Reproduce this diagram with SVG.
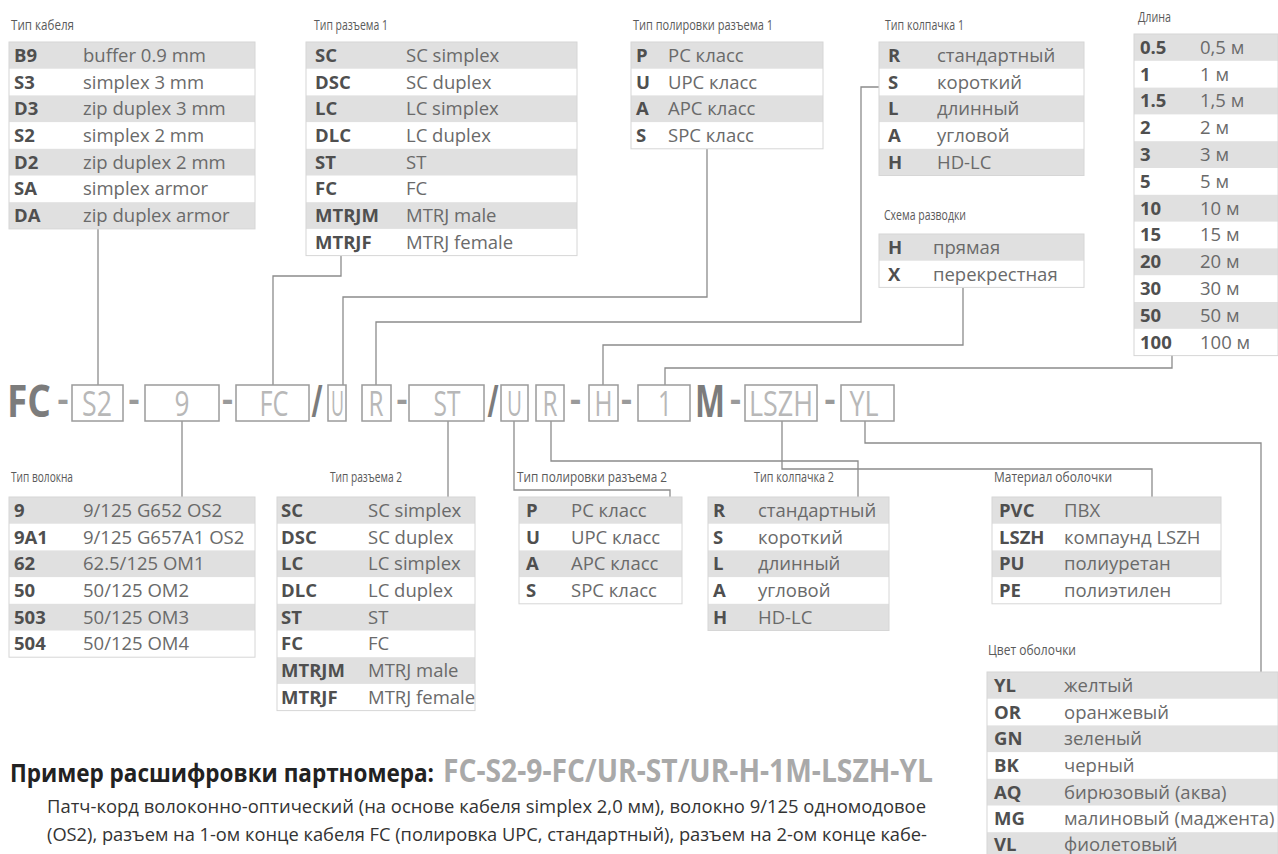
<svg xmlns="http://www.w3.org/2000/svg" width="1278" height="854" viewBox="0 0 1278 854">
<style>
.t{font-family:'Open Sans',sans-serif;font-size:15px;fill:#5a5a5a}
.c{font-family:'Open Sans',sans-serif;font-size:18.5px;font-weight:700;fill:#4f4f4f}
.d{font-family:'Open Sans',sans-serif;font-size:18.5px;fill:#6a6a6a}
.gr{fill:#e0e0e0}
.bd{fill:none;stroke:#d6d6d6;stroke-width:1}
.ln{fill:none;stroke:#8c8c8c;stroke-width:1.3}
.bx{fill:#fff;stroke:#9b9b9b;stroke-width:1.5}
.bt{font-family:'Open Sans',sans-serif;font-size:35px;fill:#b8b8b8;text-anchor:middle}
.big{font-family:'Open Sans',sans-serif;font-size:44px;font-weight:700;fill:#7c7c7c}
.sl{font-family:'Open Sans',sans-serif;font-size:44px;font-weight:700;fill:#7c7c7c;text-anchor:middle}
.da{font-family:'Open Sans',sans-serif;font-size:34px;font-weight:700;fill:#9a9a9a;text-anchor:middle}
.h1{font-family:'Open Sans',sans-serif;font-size:25px;font-weight:700;fill:#222}
.h2{font-family:'Open Sans',sans-serif;font-size:32px;font-weight:700;fill:#a9a9a9}
.p{font-family:'Open Sans',sans-serif;font-size:19px;fill:#333}
</style>
<rect width="1278" height="854" fill="#fff"/>

<g id="connectors">
<path class="ln" d="M98 229V385"/>
<path class="ln" d="M341 256V276H273V385"/>
<path class="ln" d="M707 149V297H343V385"/>
<path class="ln" d="M879 87H861V322H376V385"/>
<path class="ln" d="M963 288V345H603V385"/>
<path class="ln" d="M1172 355V368H665V385"/>
<path class="ln" d="M182 421V497"/>
<path class="ln" d="M448 421V497"/>
<path class="ln" d="M514 421V490H670V497"/>
<path class="ln" d="M551 421V461H858V497"/>
<path class="ln" d="M782 421V469H1152V497"/>
<path class="ln" d="M865 421V443H1261V672"/>
</g>

<g id="cable-type" transform="translate(9,42)">
<text class="t" x="2" y="-12" textLength="63" lengthAdjust="spacingAndGlyphs">Тип кабеля</text>
<rect class="gr" x="0" y="0" width="246" height="26.7"/>
<rect class="gr" x="0" y="53.4" width="246" height="26.7"/>
<rect class="gr" x="0" y="106.8" width="246" height="26.7"/>
<rect class="gr" x="0" y="160.2" width="246" height="26.7"/>
<rect class="bd" x="0" y="0" width="246" height="186.9"/>
<text class="c" x="5" y="19.8">B9</text><text class="d" x="74" y="19.8">buffer 0.9 mm</text>
<text class="c" x="5" y="46.5">S3</text><text class="d" x="74" y="46.5">simplex 3 mm</text>
<text class="c" x="5" y="73.2">D3</text><text class="d" x="74" y="73.2">zip duplex 3 mm</text>
<text class="c" x="5" y="99.9">S2</text><text class="d" x="74" y="99.9">simplex 2 mm</text>
<text class="c" x="5" y="126.6">D2</text><text class="d" x="74" y="126.6">zip duplex 2 mm</text>
<text class="c" x="5" y="153.3">SA</text><text class="d" x="74" y="153.3">simplex armor</text>
<text class="c" x="5" y="180">DA</text><text class="d" x="74" y="180">zip duplex armor</text>
</g>

<g id="connector1-type" transform="translate(306,42)">
<text class="t" x="8" y="-12" textLength="74" lengthAdjust="spacingAndGlyphs">Тип разъема 1</text>
<rect class="gr" x="0" y="0" width="271" height="26.7"/>
<rect class="gr" x="0" y="53.4" width="271" height="26.7"/>
<rect class="gr" x="0" y="106.8" width="271" height="26.7"/>
<rect class="gr" x="0" y="160.2" width="271" height="26.7"/>
<rect class="bd" x="0" y="0" width="271" height="213.6"/>
<text class="c" x="9" y="19.8">SC</text><text class="d" x="100" y="19.8">SC simplex</text>
<text class="c" x="9" y="46.5">DSC</text><text class="d" x="100" y="46.5">SC duplex</text>
<text class="c" x="9" y="73.2">LC</text><text class="d" x="100" y="73.2">LC simplex</text>
<text class="c" x="9" y="99.9">DLC</text><text class="d" x="100" y="99.9">LC duplex</text>
<text class="c" x="9" y="126.6">ST</text><text class="d" x="100" y="126.6">ST</text>
<text class="c" x="9" y="153.3">FC</text><text class="d" x="100" y="153.3">FC</text>
<text class="c" x="9" y="180">MTRJM</text><text class="d" x="100" y="180">MTRJ male</text>
<text class="c" x="9" y="206.7">MTRJF</text><text class="d" x="100" y="206.7">MTRJ female</text>
</g>

<g id="polish1-type" transform="translate(631,42)">
<text class="t" x="2" y="-12" textLength="140" lengthAdjust="spacingAndGlyphs">Тип полировки разъема 1</text>
<rect class="gr" x="0" y="0" width="192" height="26.7"/>
<rect class="gr" x="0" y="53.4" width="192" height="26.7"/>
<rect class="bd" x="0" y="0" width="192" height="106.8"/>
<text class="c" x="5" y="19.8">P</text><text class="d" x="37" y="19.8">PC класс</text>
<text class="c" x="5" y="46.5">U</text><text class="d" x="37" y="46.5">UPC класс</text>
<text class="c" x="5" y="73.2">A</text><text class="d" x="37" y="73.2">APC класс</text>
<text class="c" x="5" y="99.9">S</text><text class="d" x="37" y="99.9">SPC класс</text>
</g>

<g id="cap1-type" transform="translate(879,42)">
<text class="t" x="6" y="-12" textLength="79" lengthAdjust="spacingAndGlyphs">Тип колпачка 1</text>
<rect class="gr" x="0" y="0" width="205" height="26.7"/>
<rect class="gr" x="0" y="53.4" width="205" height="26.7"/>
<rect class="gr" x="0" y="106.8" width="205" height="26.7"/>
<rect class="bd" x="0" y="0" width="205" height="133.5"/>
<text class="c" x="9" y="19.8">R</text><text class="d" x="58" y="19.8">стандартный</text>
<text class="c" x="9" y="46.5">S</text><text class="d" x="58" y="46.5">короткий</text>
<text class="c" x="9" y="73.2">L</text><text class="d" x="58" y="73.2">длинный</text>
<text class="c" x="9" y="99.9">A</text><text class="d" x="58" y="99.9">угловой</text>
<text class="c" x="9" y="126.6">H</text><text class="d" x="58" y="126.6">HD-LC</text>
</g>

<g id="wiring-scheme" transform="translate(879,234)">
<text class="t" x="5" y="-14" textLength="82" lengthAdjust="spacingAndGlyphs">Схема разводки</text>
<rect class="gr" x="0" y="0" width="205" height="26.7"/>
<rect class="bd" x="0" y="0" width="205" height="53.4"/>
<text class="c" x="9" y="19.8">H</text><text class="d" x="54" y="19.8">прямая</text>
<text class="c" x="9" y="46.5">X</text><text class="d" x="54" y="46.5">перекрестная</text>
</g>

<g id="length" transform="translate(1134,34)">
<text class="t" x="4" y="-12" textLength="33" lengthAdjust="spacingAndGlyphs">Длина</text>
<rect class="gr" x="0" y="0" width="144" height="26.8"/>
<rect class="gr" x="0" y="53.6" width="144" height="26.8"/>
<rect class="gr" x="0" y="107.2" width="144" height="26.8"/>
<rect class="gr" x="0" y="160.8" width="144" height="26.8"/>
<rect class="gr" x="0" y="214.4" width="144" height="26.8"/>
<rect class="gr" x="0" y="268" width="144" height="26.8"/>
<rect class="bd" x="0" y="0" width="144" height="321.6"/>
<text class="c" x="6" y="19.8">0.5</text><text class="d" x="66" y="19.8">0,5 м</text>
<text class="c" x="6" y="46.6">1</text><text class="d" x="66" y="46.6">1 м</text>
<text class="c" x="6" y="73.4">1.5</text><text class="d" x="66" y="73.4">1,5 м</text>
<text class="c" x="6" y="100.2">2</text><text class="d" x="66" y="100.2">2 м</text>
<text class="c" x="6" y="127">3</text><text class="d" x="66" y="127">3 м</text>
<text class="c" x="6" y="153.8">5</text><text class="d" x="66" y="153.8">5 м</text>
<text class="c" x="6" y="180.6">10</text><text class="d" x="66" y="180.6">10 м</text>
<text class="c" x="6" y="207.4">15</text><text class="d" x="66" y="207.4">15 м</text>
<text class="c" x="6" y="234.2">20</text><text class="d" x="66" y="234.2">20 м</text>
<text class="c" x="6" y="261">30</text><text class="d" x="66" y="261">30 м</text>
<text class="c" x="6" y="287.8">50</text><text class="d" x="66" y="287.8">50 м</text>
<text class="c" x="6" y="314.6">100</text><text class="d" x="66" y="314.6">100 м</text>
</g>

<g id="part-number">
<text class="big" x="7" y="417" textLength="44" lengthAdjust="spacingAndGlyphs">FC</text>
<text class="da" x="63" y="411">-</text>
<rect class="bx" x="72" y="385" width="51" height="36"/>
<text class="bt" x="97" y="416" textLength="30" lengthAdjust="spacingAndGlyphs">S2</text>
<text class="da" x="134" y="411">-</text>
<rect class="bx" x="145" y="385" width="74" height="36"/>
<text class="bt" x="182" y="416" textLength="15" lengthAdjust="spacingAndGlyphs">9</text>
<text class="da" x="227.5" y="411">-</text>
<rect class="bx" x="236" y="385" width="73" height="36"/>
<text class="bt" x="274" y="416" textLength="29" lengthAdjust="spacingAndGlyphs">FC</text>
<text class="sl" x="317" y="417" textLength="11" lengthAdjust="spacingAndGlyphs">/</text>
<rect class="bx" x="328" y="385" width="18" height="36"/>
<text class="bt" x="337.5" y="416" textLength="13" lengthAdjust="spacingAndGlyphs">U</text>
<rect class="bx" x="362" y="385" width="29" height="36"/>
<text class="bt" x="376" y="416" textLength="15" lengthAdjust="spacingAndGlyphs">R</text>
<text class="da" x="402" y="411">-</text>
<rect class="bx" x="409" y="385" width="75" height="36"/>
<text class="bt" x="447" y="416" textLength="27" lengthAdjust="spacingAndGlyphs">ST</text>
<text class="sl" x="493" y="417" textLength="11" lengthAdjust="spacingAndGlyphs">/</text>
<rect class="bx" x="501" y="385" width="27" height="36"/>
<text class="bt" x="514.5" y="416" textLength="15" lengthAdjust="spacingAndGlyphs">U</text>
<rect class="bx" x="536" y="385" width="28" height="36"/>
<text class="bt" x="550" y="416" textLength="15" lengthAdjust="spacingAndGlyphs">R</text>
<text class="da" x="575.5" y="411">-</text>
<rect class="bx" x="589" y="385" width="29" height="36"/>
<text class="bt" x="603.5" y="416" textLength="18" lengthAdjust="spacingAndGlyphs">H</text>
<text class="da" x="626.5" y="411">-</text>
<rect class="bx" x="638" y="385" width="52" height="36"/>
<text class="bt" x="665" y="416" textLength="14" lengthAdjust="spacingAndGlyphs">1</text>
<text class="big" x="695" y="417" textLength="30" lengthAdjust="spacingAndGlyphs">M</text>
<text class="da" x="735.5" y="411">-</text>
<rect class="bx" x="745" y="385" width="72" height="36"/>
<text class="bt" x="781" y="416" textLength="64" lengthAdjust="spacingAndGlyphs">LSZH</text>
<text class="da" x="830" y="411">-</text>
<rect class="bx" x="841" y="385" width="53" height="36"/>
<text class="bt" x="864" y="416" textLength="29" lengthAdjust="spacingAndGlyphs">YL</text>
</g>

<g id="fiber-type" transform="translate(9,497)">
<text class="t" x="2" y="-15" textLength="62" lengthAdjust="spacingAndGlyphs">Тип волокна</text>
<rect class="gr" x="0" y="0" width="246" height="26.7"/>
<rect class="gr" x="0" y="53.4" width="246" height="26.7"/>
<rect class="gr" x="0" y="106.8" width="246" height="26.7"/>
<rect class="bd" x="0" y="0" width="246" height="160.2"/>
<text class="c" x="5" y="19.8">9</text><text class="d" x="74" y="19.8">9/125 G652 OS2</text>
<text class="c" x="5" y="46.5">9A1</text><text class="d" x="74" y="46.5">9/125 G657A1 OS2</text>
<text class="c" x="5" y="73.2">62</text><text class="d" x="74" y="73.2">62.5/125 OM1</text>
<text class="c" x="5" y="99.9">50</text><text class="d" x="74" y="99.9">50/125 OM2</text>
<text class="c" x="5" y="126.6">503</text><text class="d" x="74" y="126.6">50/125 OM3</text>
<text class="c" x="5" y="153.3">504</text><text class="d" x="74" y="153.3">50/125 OM4</text>
</g>

<g id="connector2-type" transform="translate(277,497)">
<text class="t" x="53" y="-15" textLength="72" lengthAdjust="spacingAndGlyphs">Тип разъема 2</text>
<rect class="gr" x="0" y="0" width="198" height="26.7"/>
<rect class="gr" x="0" y="53.4" width="198" height="26.7"/>
<rect class="gr" x="0" y="106.8" width="198" height="26.7"/>
<rect class="gr" x="0" y="160.2" width="198" height="26.7"/>
<rect class="bd" x="0" y="0" width="198" height="213.6"/>
<text class="c" x="4" y="19.8">SC</text><text class="d" x="91" y="19.8">SC simplex</text>
<text class="c" x="4" y="46.5">DSC</text><text class="d" x="91" y="46.5">SC duplex</text>
<text class="c" x="4" y="73.2">LC</text><text class="d" x="91" y="73.2">LC simplex</text>
<text class="c" x="4" y="99.9">DLC</text><text class="d" x="91" y="99.9">LC duplex</text>
<text class="c" x="4" y="126.6">ST</text><text class="d" x="91" y="126.6">ST</text>
<text class="c" x="4" y="153.3">FC</text><text class="d" x="91" y="153.3">FC</text>
<text class="c" x="4" y="180">MTRJM</text><text class="d" x="91" y="180">MTRJ male</text>
<text class="c" x="4" y="206.7">MTRJF</text><text class="d" x="91" y="206.7">MTRJ female</text>
</g>

<g id="polish2-type" transform="translate(519,497)">
<text class="t" x="-2" y="-15" textLength="150" lengthAdjust="spacingAndGlyphs">Тип полировки разъема 2</text>
<rect class="gr" x="0" y="0" width="163" height="26.7"/>
<rect class="gr" x="0" y="53.4" width="163" height="26.7"/>
<rect class="bd" x="0" y="0" width="163" height="106.8"/>
<text class="c" x="7" y="19.8">P</text><text class="d" x="52" y="19.8">PC класс</text>
<text class="c" x="7" y="46.5">U</text><text class="d" x="52" y="46.5">UPC класс</text>
<text class="c" x="7" y="73.2">A</text><text class="d" x="52" y="73.2">APC класс</text>
<text class="c" x="7" y="99.9">S</text><text class="d" x="52" y="99.9">SPC класс</text>
</g>

<g id="cap2-type" transform="translate(708,497)">
<text class="t" x="46" y="-15" textLength="80" lengthAdjust="spacingAndGlyphs">Тип колпачка 2</text>
<rect class="gr" x="0" y="0" width="181" height="26.7"/>
<rect class="gr" x="0" y="53.4" width="181" height="26.7"/>
<rect class="gr" x="0" y="106.8" width="181" height="26.7"/>
<rect class="bd" x="0" y="0" width="181" height="133.5"/>
<text class="c" x="5" y="19.8">R</text><text class="d" x="50" y="19.8">стандартный</text>
<text class="c" x="5" y="46.5">S</text><text class="d" x="50" y="46.5">короткий</text>
<text class="c" x="5" y="73.2">L</text><text class="d" x="50" y="73.2">длинный</text>
<text class="c" x="5" y="99.9">A</text><text class="d" x="50" y="99.9">угловой</text>
<text class="c" x="5" y="126.6">H</text><text class="d" x="50" y="126.6">HD-LC</text>
</g>

<g id="jacket-material" transform="translate(992,497)">
<text class="t" x="2" y="-15" textLength="118" lengthAdjust="spacingAndGlyphs">Материал оболочки</text>
<rect class="gr" x="0" y="0" width="229" height="26.7"/>
<rect class="gr" x="0" y="53.4" width="229" height="26.7"/>
<rect class="bd" x="0" y="0" width="229" height="106.8"/>
<text class="c" x="7" y="19.8">PVC</text><text class="d" x="72" y="19.8">ПВХ</text>
<text class="c" x="7" y="46.5">LSZH</text><text class="d" x="72" y="46.5">компаунд LSZH</text>
<text class="c" x="7" y="73.2">PU</text><text class="d" x="72" y="73.2">полиуретан</text>
<text class="c" x="7" y="99.9">PE</text><text class="d" x="72" y="99.9">полиэтилен</text>
</g>

<g id="jacket-color" transform="translate(987,672)">
<text class="t" x="1" y="-17" textLength="88" lengthAdjust="spacingAndGlyphs">Цвет оболочки</text>
<rect class="gr" x="0" y="0" width="291" height="26.7"/>
<rect class="gr" x="0" y="53.4" width="291" height="26.7"/>
<rect class="gr" x="0" y="106.8" width="291" height="26.7"/>
<rect class="gr" x="0" y="160.2" width="291" height="26.7"/>
<rect class="bd" x="0" y="0" width="291" height="186.9"/>
<text class="c" x="7" y="19.8">YL</text><text class="d" x="77" y="19.8">желтый</text>
<text class="c" x="7" y="46.5">OR</text><text class="d" x="77" y="46.5">оранжевый</text>
<text class="c" x="7" y="73.2">GN</text><text class="d" x="77" y="73.2">зеленый</text>
<text class="c" x="7" y="99.9">BK</text><text class="d" x="77" y="99.9">черный</text>
<text class="c" x="7" y="126.6">AQ</text><text class="d" x="77" y="126.6">бирюзовый (аква)</text>
<text class="c" x="7" y="153.3">MG</text><text class="d" x="77" y="153.3">малиновый (маджента)</text>
<text class="c" x="7" y="179">VL</text><text class="d" x="77" y="179">фиолетовый</text>
</g>

<g id="example">
<text class="h1" x="10" y="782" textLength="424" lengthAdjust="spacingAndGlyphs">Пример расшифровки партномера:</text>
<text class="h2" x="443" y="782" textLength="490" lengthAdjust="spacingAndGlyphs">FC-S2-9-FC/UR-ST/UR-H-1M-LSZH-YL</text>
<text class="p" x="47" y="813" textLength="879" lengthAdjust="spacingAndGlyphs">Патч-корд волоконно-оптический (на основе кабеля simplex 2,0 мм), волокно 9/125 одномодовое</text>
<text class="p" x="47" y="841" textLength="880" lengthAdjust="spacingAndGlyphs">(OS2), разъем на 1-ом конце кабеля FC (полировка UPC, стандартный), разъем на 2-ом конце кабе-</text>
</g>
</svg>
